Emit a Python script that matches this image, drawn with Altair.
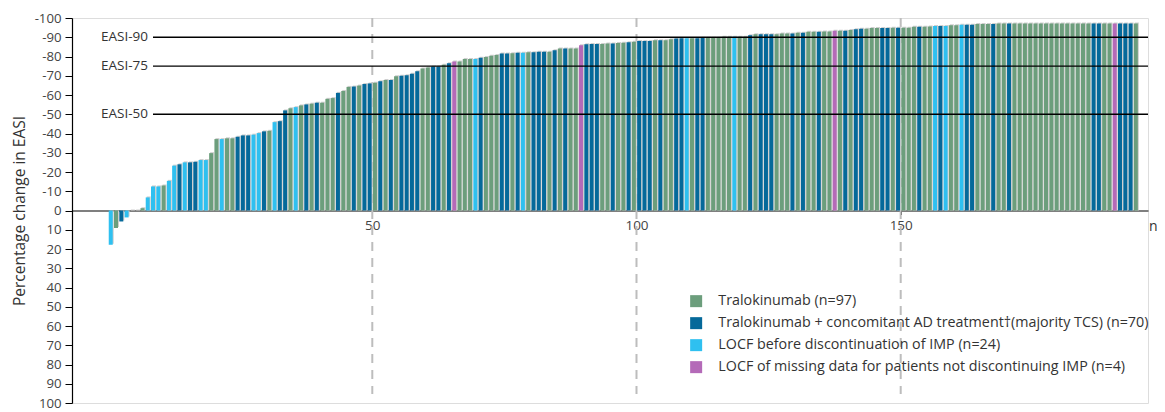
import altair as alt
import pandas as pd

# ---- data ----
values = [
    17.8, 9.1, 5.7, 3.6, 0, 0, -1.2, -6.8, -12.5, -12.5,
    -13.0, -15.4, -23.3, -24.0, -25.0, -25.0, -25.3, -26.2, -26.2, -29.8,
    -37.1, -37.1, -37.5, -37.5, -38.3, -39.0, -39.0, -39.4, -40.2, -41.1,
    -41.4, -45.9, -46.4, -52.0, -53.1, -53.7, -54.6, -55.1, -55.5, -56.0,
    -56.0, -58.0, -58.4, -61.1, -62.1, -64.2, -64.4, -64.9, -65.7, -66.0,
    -66.4, -67.1, -67.8, -67.8, -69.8, -70.0, -70.3, -71.0, -72.4, -73.8,
    -74.3, -74.8, -74.8, -75.7, -76.5, -77.4, -77.4, -78.7, -78.7, -78.7,
    -79.4, -79.8, -80.4, -80.8, -81.5, -81.5, -81.7, -81.9, -81.9, -82.2,
    -82.2, -82.5, -82.5, -82.5, -83.2, -84.2, -84.2, -84.2, -84.2, -85.9,
    -86.3, -86.5, -86.5, -86.5, -86.8, -86.8, -87.0, -87.2, -87.4, -87.6,
    -88.1, -88.1, -88.1, -88.5, -88.5, -88.5, -89.0, -89.3, -89.5, -89.5,
    -89.5, -89.5, -89.7, -89.7, -89.7, -89.7, -90.3, -90.3, -90.3, -90.3,
    -90.3, -91.0, -91.5, -91.6, -91.6, -91.6, -91.6, -91.9, -91.9, -91.9,
    -92.4, -92.4, -92.8, -92.8, -92.8, -93.0, -93.0, -93.4, -93.4, -93.4,
    -93.8, -94.1, -94.4, -94.4, -94.8, -94.8, -94.8, -94.8, -94.9, -94.9,
    -94.9, -94.9, -95.4, -95.4, -95.4, -95.6, -95.8, -95.8, -95.8, -96.2,
    -96.2, -96.5, -96.5, -96.5, -96.9, -96.9, -96.9, -96.9, -97.2, -97.2,
    -97.2, -97.2, -97.2, -97.2, -97.2, -97.2, -97.2, -97.2, -97.2, -97.2,
    -97.2, -97.2, -97.2, -97.2, -97.2, -97.2, -97.2, -97.2, -97.2, -97.2,
    -97.2, -97.2, -97.2, -97.2, -97.2,
]

# G = Tralokinumab, D = + concomitant, L = LOCF before discontinuation, P = LOCF missing
group_codes = "".join([
    "LGDLLLGLLL", "GLLDLDDLLG", "GLGGDDDLLD", "GLDDGLGDGD", "GGGDGGDGDD",
    "GDGDGDDDDG", "GDDGDPGGGL", "DGGGDDGDLG", "DDDGDGDGGP", "DDDGGDGGDG",
    "DDDGDGGDDL", "GDDGGGGGLG", "GDGDDDGGGD", "GDGGDGGPGD", "GDDGGGDDGD",
    "GGGDGGLDLG", "GLDDGGGDGG", "DGGGGGGGGG", "GGGGGGDDGG", "PDDDG",
])

group_names = {
    "G": "Tralokinumab (n=97)",
    "D": "Tralokinumab + concomitant AD treatment\u2020(majority TCS) (n=70)",
    "L": "LOCF before discontinuation of IMP (n=24)",
    "P": "LOCF of missing data for patients not discontinuing IMP (n=4)",
}
legend_order = [group_names[k] for k in ["G", "D", "L", "P"]]
group_colors = ["#6c9e7c", "#05699a", "#2fc0f0", "#b46ab8"]

easi_levels = [-90, -75, -50]
easi_labels = ["EASI-90", "EASI-75", "EASI-50"]
x_ticks = [50, 100, 150]
y_ticks = list(range(-100, 101, 10))

# ---- tables ----
df = pd.DataFrame({
    "n": list(range(1, len(values) + 1)),
    "change": values,
    "group": [group_names[c] for c in group_codes],
})
df["pos"] = df["n"] - 0.5
vlines = pd.DataFrame({"pos": x_ticks})
easi = pd.DataFrame({"level": easi_levels, "label": easi_labels})

W, H = 1076, 385
FONT = "Open Sans"

xscale = alt.Scale(domain=[-6.83, 196.8], nice=False, zero=False, padding=0)
yscale = alt.Scale(domain=[-100, 100], reverse=True, nice=False, zero=False, padding=0)

xaxis = alt.Axis(values=x_ticks, orient="bottom", offset=-H / 2,
                 title=None, grid=False, tickSize=4, tickColor="black",
                 domainColor="black", domainWidth=1.2, labelFontSize=13.5,
                 labelColor="#444", labelPadding=4, labelFont=FONT,
                 labelOverlap=False)
yaxis = alt.Axis(values=y_ticks, labelExpr="'' + datum.value",
                 title="Percentage change in EASI", titleFontSize=15.5,
                 titleFontWeight="normal", titleColor="#333",
                 titlePadding=7, titleFont=FONT, labelFont=FONT,
                 labelFontSize=13.2, labelColor="#444", labelPadding=4,
                 tickSize=7, tickColor="black", domainColor="black",
                 domainWidth=1.2, grid=False, labelOverlap=False)

base = alt.Chart(df)

dashes = alt.Chart(vlines).mark_rule(
    strokeDash=[9, 7], color="#bdbdbd", strokeWidth=2
).encode(
    x=alt.X("pos:Q", scale=xscale, axis=xaxis),
    y=alt.value(0),
    y2=alt.value(376),
)

shadow = base.mark_bar(size=4, color="#cfcfcf", xOffset=1, yOffset=-1).encode(
    x=alt.X("pos:Q", scale=xscale, axis=xaxis),
    y=alt.Y("change:Q", scale=yscale, axis=yaxis),
    y2=alt.datum(0),
)

bars = base.mark_bar(size=4).encode(
    x=alt.X("pos:Q", scale=xscale, axis=xaxis),
    y=alt.Y("change:Q", scale=yscale, axis=yaxis),
    y2=alt.datum(0),
    color=alt.Color("group:N",
                    scale=alt.Scale(domain=legend_order, range=group_colors),
                    legend=alt.Legend(title=None, orient="none", legendX=617,
                                      legendY=276, symbolType="square",
                                      symbolSize=144, symbolStrokeWidth=0,
                                      labelFontSize=14.3, labelColor="#333",
                                      labelFont=FONT, labelLimit=1000,
                                      rowPadding=7, labelOffset=15, padding=0)),
)

easi_rules = alt.Chart(easi).mark_rule(color="black", strokeWidth=1.3).encode(
    y=alt.Y("level:Q", scale=yscale, axis=yaxis),
    x=alt.value(81),
    x2=alt.value(W),
)

easi_text = alt.Chart(easi).mark_text(
    align="right", baseline="middle", fontSize=13.5, color="#333", font=FONT
).encode(
    y=alt.Y("level:Q", scale=yscale, axis=yaxis),
    x=alt.value(76),
    text="label:N",
)

n_text = alt.Chart(pd.DataFrame({"t": ["n"]})).mark_text(
    align="left", baseline="middle", fontSize=14, color="#333", font=FONT, dy=16
).encode(
    x=alt.value(W + 1),
    y=alt.value(H / 2),
    text="t:N",
)

chart = alt.layer(dashes, shadow, bars, easi_rules, easi_text, n_text).properties(
    width=W, height=H,
    autosize=alt.AutoSizeParams(type="none"),
    padding={"left": 64, "top": 10, "right": 9, "bottom": 8},
).configure_view(stroke=None).configure(font=FONT)

chart.save("out.html", embed_options={"renderer": "svg", "actions": False})
